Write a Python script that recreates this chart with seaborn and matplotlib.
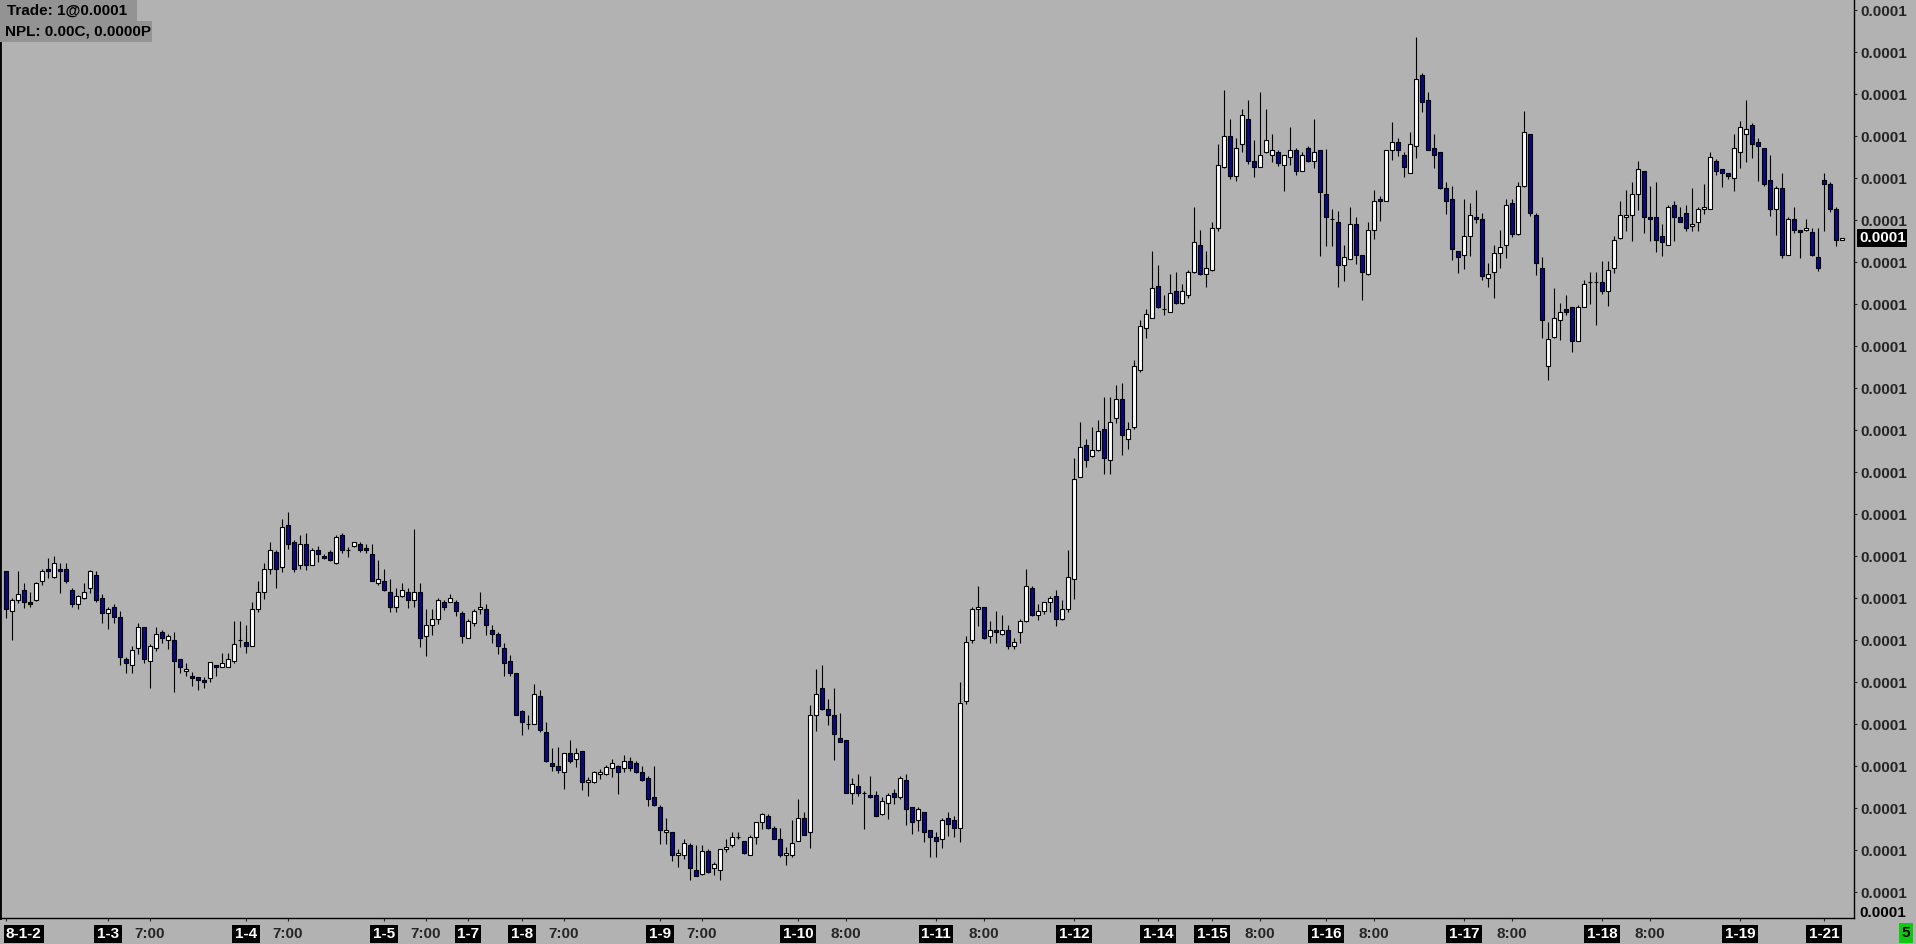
import numpy as np
import pandas as pd
import matplotlib
matplotlib.use('Agg')
import matplotlib.pyplot as plt
import matplotlib.transforms as mtrans
from matplotlib.patches import Rectangle
import seaborn as sns

# prices as offsets above 0.0001, in units of 1e-8
open_ = [
    729, 689, 700, 710, 698, 700, 719, 731, 723, 731,
    731, 710, 696, 702, 712, 725, 702, 687, 693, 683,
    641, 635, 652, 673, 639, 652, 668, 660, 660, 641,
    629, 624, 623, 620, 622, 635, 633, 633, 639, 660,
    658, 654, 691, 708, 731, 748, 733, 775, 758, 735,
    756, 735, 750, 744, 748, 737, 765, 750, 754, 756,
    752, 746, 717, 719, 708, 693, 704, 708, 700, 708,
    664, 675, 681, 698, 698, 698, 687, 662, 677, 691,
    691, 670, 666, 652, 639, 627, 589, 576, 576, 604,
    568, 537, 534, 528, 547, 541, 549, 518, 518, 526,
    526, 532, 534, 532, 539, 537, 528, 522, 503, 493,
    468, 468, 445, 445, 455, 430, 426, 449, 432, 430,
    451, 455, 463, 459, 445, 463, 478, 484, 472, 461,
    445, 445, 459, 482, 468, 585, 612, 591, 585, 562,
    560, 507, 514, 507, 505, 505, 486, 497, 507, 503,
    520, 493, 480, 488, 470, 463, 461, 482, 480, 472,
    599, 660, 691, 693, 664, 670, 666, 670, 654, 668,
    679, 712, 685, 689, 698, 704, 681, 691, 721, 823,
    855, 844, 850, 871, 840, 882, 901, 861, 873, 930,
    972, 982, 1014, 991, 988, 1009, 997, 1005, 1028, 1055,
    1026, 1030, 1072, 1133, 1164, 1124, 1156, 1181, 1139, 1133,
    1148, 1145, 1148, 1135, 1143, 1150, 1129, 1152, 1139, 1150,
    1106, 1081, 1078, 1035, 1041, 1076, 1045, 1026, 1070, 1101,
    1099, 1150, 1158, 1145, 1127, 1154, 1225, 1200, 1152, 1148,
    1112, 1101, 1049, 1045, 1064, 1083, 1081, 1022, 1028, 1047,
    1055, 1097, 1066, 1114, 1166, 1085, 1032, 934, 963, 980,
    991, 993, 959, 993, 1018, 1018, 1018, 1009, 1032, 1062,
    1083, 1085, 1106, 1129, 1083, 1083, 1064, 1055, 1095, 1083,
    1087, 1074, 1078, 1091, 1091, 1139, 1131, 1127, 1122, 1148,
    1166, 1175, 1158, 1152, 1120, 1091, 1112, 1045, 1081, 1070,
    1070, 1068, 1043, 1120, 1116, 1091, 1060,
]
high = [
    729, 702, 729, 717, 708, 718, 731, 742, 744, 737,
    737, 712, 705, 717, 730, 729, 706, 693, 696, 689,
    643, 654, 677, 673, 656, 673, 670, 666, 668, 641,
    637, 628, 623, 623, 638, 635, 647, 647, 679, 679,
    675, 698, 719, 737, 758, 750, 781, 788, 760, 765,
    767, 752, 754, 746, 750, 765, 767, 753, 758, 758,
    756, 756, 740, 731, 721, 712, 717, 712, 771, 717,
    691, 691, 702, 700, 706, 700, 689, 681, 691, 708,
    696, 675, 668, 657, 645, 627, 590, 585, 616, 610,
    578, 552, 553, 547, 560, 552, 549, 523, 529, 531,
    535, 541, 535, 545, 543, 539, 534, 524, 534, 495,
    482, 468, 451, 461, 457, 455, 455, 451, 438, 451,
    461, 468, 468, 459, 465, 478, 487, 486, 474, 472,
    453, 480, 501, 488, 595, 631, 635, 601, 612, 587,
    560, 522, 526, 509, 524, 509, 503, 507, 511, 524,
    526, 493, 493, 488, 470, 468, 482, 488, 484, 618,
    664, 693, 714, 693, 679, 689, 685, 675, 662, 681,
    731, 714, 696, 698, 704, 710, 700, 750, 842, 878,
    861, 873, 880, 903, 903, 915, 917, 878, 940, 980,
    991, 1049, 1035, 1005, 1026, 1028, 1016, 1030, 1093, 1070,
    1049, 1078, 1156, 1210, 1181, 1162, 1191, 1200, 1160, 1208,
    1191, 1166, 1150, 1145, 1173, 1152, 1148, 1154, 1181, 1150,
    1151, 1091, 1089, 1055, 1093, 1083, 1045, 1078, 1110, 1104,
    1150, 1178, 1162, 1148, 1168, 1263, 1227, 1208, 1166, 1148,
    1118, 1114, 1049, 1101, 1097, 1110, 1087, 1037, 1055, 1070,
    1101, 1101, 1118, 1189, 1166, 1087, 1043, 978, 1012, 997,
    1005, 993, 995, 1020, 1028, 1028, 1039, 1039, 1064, 1099,
    1110, 1118, 1139, 1129, 1114, 1118, 1076, 1095, 1099, 1093,
    1095, 1112, 1093, 1116, 1148, 1141, 1131, 1127, 1166, 1179,
    1200, 1177, 1162, 1152, 1145, 1114, 1127, 1083, 1093, 1070,
    1081, 1072, 1072, 1127, 1118, 1093, 1062,
]
low = [
    682, 660, 697, 692, 693, 699, 715, 722, 722, 707,
    717, 693, 691, 701, 707, 698, 677, 671, 677, 635,
    627, 627, 646, 637, 612, 649, 657, 651, 608, 627,
    624, 614, 610, 612, 618, 624, 633, 633, 637, 653,
    647, 654, 688, 701, 726, 712, 728, 751, 728, 731,
    730, 735, 738, 741, 739, 736, 747, 743, 753, 748,
    747, 719, 715, 709, 688, 688, 703, 692, 693, 653,
    644, 665, 676, 690, 698, 684, 657, 662, 674, 686,
    665, 657, 646, 624, 624, 585, 565, 571, 576, 568,
    538, 529, 527, 511, 537, 533, 510, 504, 517, 521,
    525, 523, 506, 528, 529, 527, 519, 494, 494, 456,
    456, 439, 433, 441, 420, 424, 425, 427, 425, 420,
    448, 453, 461, 446, 445, 456, 471, 471, 461, 443,
    435, 443, 459, 465, 452, 569, 590, 575, 540, 558,
    507, 496, 504, 471, 502, 484, 485, 481, 496, 501,
    475, 466, 469, 458, 443, 443, 452, 464, 463, 458,
    596, 657, 674, 661, 657, 657, 665, 651, 651, 657,
    678, 684, 680, 686, 688, 674, 680, 688, 701, 823,
    833, 843, 849, 826, 826, 877, 845, 851, 871, 928,
    962, 982, 992, 985, 988, 996, 996, 1002, 1027, 1025,
    1013, 1029, 1069, 1132, 1121, 1119, 1148, 1136, 1123, 1133,
    1147, 1138, 1134, 1109, 1135, 1125, 1129, 1138, 1132, 1044,
    1054, 1054, 1013, 1019, 1041, 1036, 1000, 1025, 1061, 1079,
    1099, 1140, 1144, 1123, 1127, 1142, 1188, 1150, 1132, 1111,
    1086, 1040, 1027, 1031, 1044, 1077, 1020, 1013, 1002, 1032,
    1042, 1063, 1065, 1113, 1084, 1025, 962, 920, 962, 960,
    985, 948, 959, 993, 996, 975, 1006, 994, 1027, 1061,
    1069, 1059, 1090, 1067, 1059, 1048, 1044, 1055, 1059, 1078,
    1069, 1069, 1069, 1086, 1091, 1125, 1113, 1121, 1109, 1132,
    1138, 1142, 1119, 1114, 1084, 1065, 1042, 1045, 1067, 1042,
    1069, 1044, 1029, 1069, 1088, 1054, 1060,
]
close = [
    691, 700, 706, 698, 696, 717, 729, 729, 737, 729,
    719, 696, 704, 708, 729, 700, 687, 691, 683, 643,
    637, 650, 673, 641, 654, 666, 662, 664, 639, 633,
    631, 622, 620, 618, 638, 633, 637, 641, 656, 660,
    654, 691, 708, 731, 750, 731, 773, 756, 731, 756,
    735, 750, 746, 742, 740, 763, 750, 750, 758, 750,
    750, 719, 721, 710, 693, 704, 710, 700, 708, 662,
    675, 681, 700, 693, 702, 689, 664, 679, 689, 693,
    675, 666, 654, 637, 627, 585, 578, 576, 606, 570,
    539, 534, 530, 547, 539, 547, 518, 520, 528, 528,
    533, 537, 528, 539, 532, 528, 520, 501, 495, 470,
    470, 445, 447, 457, 432, 424, 449, 428, 436, 451,
    453, 463, 463, 447, 463, 478, 486, 472, 461, 445,
    447, 457, 482, 465, 585, 606, 591, 585, 566, 558,
    507, 516, 507, 507, 503, 484, 499, 505, 503, 522,
    491, 478, 491, 468, 463, 459, 480, 476, 472, 597,
    658, 691, 693, 662, 670, 668, 670, 654, 658, 679,
    714, 685, 689, 698, 702, 681, 691, 723, 821, 853,
    840, 850, 869, 842, 878, 901, 865, 871, 934, 974,
    986, 1012, 993, 991, 1007, 997, 1009, 1028, 1058, 1026,
    1032, 1072, 1135, 1164, 1124, 1152, 1185, 1139, 1133, 1145,
    1160, 1150, 1137, 1145, 1150, 1129, 1145, 1139, 1148, 1108,
    1083, 1081, 1035, 1043, 1076, 1045, 1028, 1070, 1099, 1099,
    1150, 1158, 1150, 1133, 1156, 1221, 1198, 1150, 1145, 1112,
    1099, 1051, 1043, 1064, 1085, 1081, 1024, 1026, 1047, 1053,
    1095, 1066, 1114, 1168, 1087, 1037, 980, 961, 982, 988,
    988, 959, 993, 1016, 1018, 1018, 1009, 1030, 1060, 1085,
    1085, 1106, 1131, 1083, 1081, 1060, 1058, 1093, 1083, 1078,
    1072, 1076, 1091, 1093, 1143, 1129, 1127, 1124, 1152, 1173,
    1171, 1156, 1154, 1116, 1091, 1112, 1045, 1081, 1070, 1068,
    1072, 1045, 1032, 1116, 1091, 1060, 1062,
]

# time axis labels (bar index, text)
tick_pos = [0, 17, 24, 40, 47, 63, 70, 77, 86, 93, 109, 116, 132, 140,
            155, 163, 178, 192, 201, 209, 220, 228, 243, 251, 266, 274, 289, 303]
tick_text = ['8-1-2', '1-3', '7:00', '1-4', '7:00', '1-5', '7:00', '1-7', '1-8',
             '7:00', '1-9', '7:00', '1-10', '8:00', '1-11', '8:00', '1-12', '1-14',
             '1-15', '8:00', '1-16', '8:00', '1-17', '8:00', '1-18', '8:00', '1-19', '1-21']

# price scale ticks (offsets, same units as above)
price_ticks = [1290 - 42 * k for k in range(22)]

bg = '#b2b2b2'
navy = '#0a0a7c'

sns.set_theme(style='ticks', rc={'axes.facecolor': bg, 'figure.facecolor': bg,
                                 'axes.edgecolor': 'black', 'axes.linewidth': 1.0})
plt.rcParams['font.family'] = ['Liberation Sans', 'DejaVu Sans']

df = pd.DataFrame({'o': open_, 'h': high, 'l': low, 'c': close})
df = 0.0001 + df * 1e-8
df['x'] = np.arange(len(df))
up = df['c'] >= df['o']

W, H = 1916, 944
fig = plt.figure(figsize=(W / 100, H / 100), dpi=100)
ax = fig.add_axes([0, 26 / H, 1854 / W, 918 / H])

# wicks
ax.vlines(df['x'], df['l'], df['h'], color='black', linewidth=0.8, zorder=1)
# bodies
bottom = df[['o', 'c']].min(axis=1)
height = (df['c'] - df['o']).abs()
ax.bar(df['x'], height, bottom=bottom, width=0.66,
       color=np.where(up, 'white', navy), edgecolor='black', linewidth=0.8, zorder=2)

ax.set_xlim(-1, 308)
ax.set_ylim(0.0001 + 382e-8, 0.0001 + 1300e-8)

ax.spines['top'].set_visible(False)
ax.spines['right'].set_visible(True)
ax.spines['left'].set_linewidth(2)

# price axis on the right
ax.yaxis.tick_right()
ax.set_yticks([0.0001 + t * 1e-8 for t in price_ticks])
ax.yaxis.set_major_formatter(matplotlib.ticker.FuncFormatter(lambda v, p: '{:.4f}'.format(v)))
ax.tick_params(axis='y', direction='out', length=2.5, width=0.8, pad=2, labelsize=11)
for lbl in ax.get_yticklabels():
    lbl.set_fontweight('bold')

# lowest price label sits at the foot of the price scale
fig.text(1859 / W, 1 - 913 / H, '{:.4f}'.format(0.0001 + (price_ticks[-1] - 42) * 1e-8),
         ha='left', va='center', fontsize=11, fontweight='bold', color='black')

# time axis
ax.set_xticks(tick_pos)
ax.set_xticklabels(tick_text)
ax.tick_params(axis='x', direction='out', length=2.5, width=0.8, pad=4, labelsize=11)
for lbl in ax.get_xticklabels():
    lbl.set_fontweight('bold')
    if '-' in lbl.get_text():
        lbl.set_color('white')
        lbl.set_bbox(dict(facecolor='black', edgecolor='none', pad=1.8))
ax.get_xticklabels()[0].set_horizontalalignment('left')
ax.set_xlabel('')
ax.set_ylabel('')

# last price marker
tr = mtrans.blended_transform_factory(ax.transAxes, ax.transData)
ax.text(1 + 5 / 1854, df['c'].iloc[-1], '{:.4f}'.format(df['c'].iloc[-1]), transform=tr,
        ha='left', va='center', color='white', fontsize=11, fontweight='bold',
        bbox=dict(facecolor='black', edgecolor='none', pad=1.2), clip_on=False)

# top-left info boxes
fig.patches.append(Rectangle((0, 1 - 21 / H), 137 / W, 21 / H, transform=fig.transFigure,
                             facecolor='#939393', edgecolor='none'))
fig.patches.append(Rectangle((0, 1 - 42 / H), 152 / W, 21 / H, transform=fig.transFigure,
                             facecolor='#939393', edgecolor='none'))
fig.text(7 / W, 1 - 10.5 / H, 'Trade: 1@0.0001', ha='left', va='center',
         fontsize=11, fontweight='bold', color='black')
fig.text(5 / W, 1 - 31.5 / H, 'NPL: 0.00C, 0.0000P', ha='left', va='center',
         fontsize=11, fontweight='bold', color='black')

# bar period box
fig.text(1906 / W, 1 - 933 / H, '5', ha='center', va='center', fontsize=11,
         fontweight='bold', color='black',
         bbox=dict(facecolor='#10c810', edgecolor='none', pad=2.0))

fig.savefig('out.png', dpi=100, facecolor=bg)
